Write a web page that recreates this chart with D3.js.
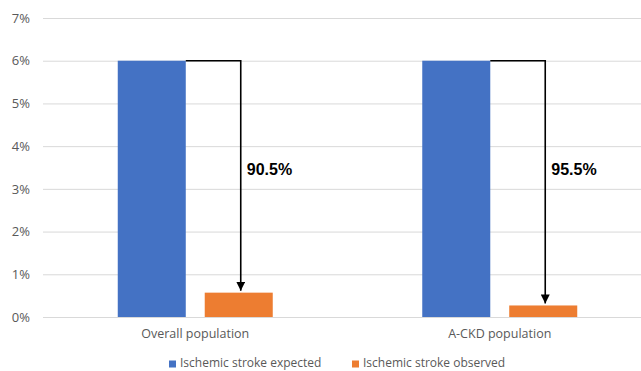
<!DOCTYPE html>
<html>
<head>
<meta charset="utf-8">
<script src="https://cdn.jsdelivr.net/npm/d3@7"></script>
<style>
  body { margin: 0; background: #fff; }
  svg { display: block; font-family: "Open Sans", Lato, sans-serif; }
</style>
</head>
<body>
<svg id="chart" width="641" height="371"></svg>
<script>
// Ischemic stroke rates, expected vs observed, per population
const categories = ["Overall population", "A-CKD population"];
const seriesNames = ["Ischemic stroke expected", "Ischemic stroke observed"];
const expected = [0.06, 0.06];
const reduction = [0.905, 0.955];
const observed = expected.map((e, i) => e * (1 - reduction[i]));
const reductionLabels = ["90.5%", "95.5%"];
const yTicks = [0, 0.01, 0.02, 0.03, 0.04, 0.05, 0.06, 0.07];
const colors = ["#4472C4", "#ED7D31"];

const svg = d3.select("#chart");
const W = 641, H = 371;

const y = d3.scaleLinear().domain([0, 0.07]).range([317, 18]);
const x0 = d3.scaleBand().domain(categories).range([43, 652])
  .paddingInner(0.491).paddingOuter(0.2455);
const x1 = d3.scaleBand().domain(seriesNames).range([0, x0.bandwidth()])
  .paddingInner(0.218).paddingOuter(0);
const color = d3.scaleOrdinal().domain(seriesNames).range(colors);

// gridlines + tick labels
const yAxis = d3.axisLeft(y).tickValues(yTicks)
  .tickFormat(d3.format(".0%")).tickSize(-(W - 43)).tickPadding(13);
const gy = svg.append("g").attr("transform", "translate(43,0)").call(yAxis);
gy.select(".domain").remove();
gy.selectAll(".tick line").attr("stroke", "#d9d9d9").attr("stroke-width", 1);
gy.selectAll(".tick text").attr("fill", "#595959").attr("font-size", 13)
  .attr("font-family", "'Open Sans', sans-serif");

// bars
const rows = categories.map((c, i) => ({ cat: c, vals: [expected[i], observed[i]] }));
const groups = svg.append("g").selectAll("g").data(rows).join("g")
  .attr("transform", d => `translate(${x0(d.cat)},0)`);
groups.selectAll("rect")
  .data(d => d.vals.map((v, j) => ({ key: seriesNames[j], v })))
  .join("rect")
  .attr("x", d => x1(d.key))
  .attr("width", x1.bandwidth())
  .attr("y", d => y(d.v))
  .attr("height", d => y(0) - y(d.v))
  .attr("fill", d => color(d.key));

// reduction arrows
svg.append("defs").append("marker")
  .attr("id", "arrow").attr("viewBox", "0 0 10 10")
  .attr("refX", 10).attr("refY", 5)
  .attr("markerWidth", 9).attr("markerHeight", 9)
  .attr("markerUnits", "userSpaceOnUse")
  .attr("orient", "auto")
  .append("path").attr("d", "M0,0 L10,5 L0,10 Z").attr("fill", "#000");

rows.forEach((d, i) => {
  const xStart = x0(d.cat) + x1(seriesNames[0]) + x1.bandwidth();
  const xArrow = x0(d.cat) + x1(seriesNames[1]) + x1.bandwidth() / 2 + 2;
  const yTop = y(expected[i]);
  const yEnd = y(observed[i]) - 2;
  svg.append("path")
    .attr("d", `M${xStart},${yTop} H${xArrow} V${yEnd}`)
    .attr("fill", "none").attr("stroke", "#000").attr("stroke-width", 1.6)
    .attr("marker-end", "url(#arrow)");
  svg.append("text")
    .attr("x", xArrow + 6).attr("y", 175)
    .attr("font-family", "'Liberation Sans', Arial, sans-serif")
    .attr("font-weight", "bold").attr("font-size", 16).attr("fill", "#000")
    .text(reductionLabels[i]);
});

// category labels
svg.append("g").selectAll("text").data(categories).join("text")
  .attr("x", d => x0(d) + x0.bandwidth() / 2)
  .attr("y", 338)
  .attr("text-anchor", "middle")
  .attr("font-size", 12.5).attr("fill", "#595959")
  .text(d => d);

// legend
const legendX = [169, 352];
const legend = svg.append("g").selectAll("g").data(seriesNames).join("g")
  .attr("transform", (d, i) => `translate(${legendX[i]},0)`);
legend.append("rect").attr("x", 0).attr("y", 360.5).attr("width", 7).attr("height", 7)
  .attr("fill", d => color(d));
legend.append("text").attr("x", 11).attr("y", 367)
  .attr("font-size", 12).attr("fill", "#595959").text(d => d);
</script>
</body>
</html>
